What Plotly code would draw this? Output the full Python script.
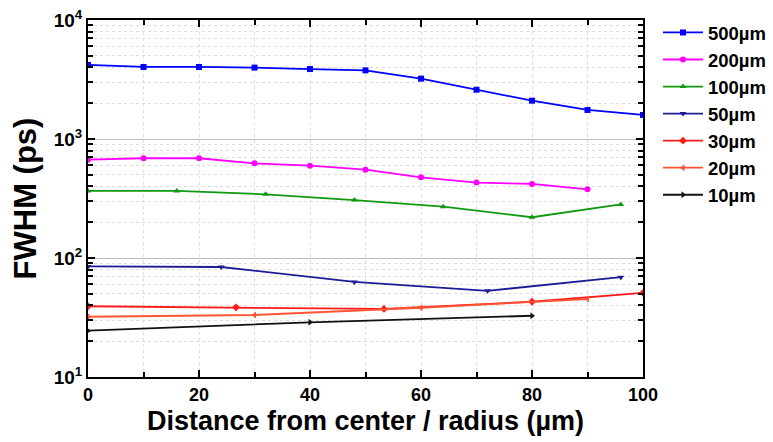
import plotly.graph_objects as go

series_names = ["500µm", "200µm", "100µm", "50µm", "30µm", "20µm", "10µm"]

x_500 = [0, 10, 20, 30, 40, 50, 60, 70, 80, 90, 100]
y_500 = [4190, 4030, 4030, 3980, 3870, 3775, 3215, 2595, 2100, 1754, 1592]

x_200 = [0, 10, 20, 30, 40, 50, 60, 70, 80, 90]
y_200 = [670, 689, 689, 625, 597, 552, 476, 430, 419, 378]

x_100 = [0, 16, 32, 48, 64, 80, 96]
y_100 = [366, 366, 343, 307, 270, 220, 282]

x_50 = [0, 24, 48, 72, 96]
y_50 = [85, 84, 63, 53, 69]

x_30 = [0, 26.67, 53.33, 80, 100]
y_30 = [39.3, 38.5, 37.3, 42.9, 51]

x_20 = [0, 30, 60, 90]
y_20 = [32.1, 33.2, 38.2, 45.2]

x_10 = [0, 40, 80]
y_10 = [24.5, 28.8, 32.7]

xs = [x_500, x_200, x_100, x_50, x_30, x_20, x_10]
ys = [y_500, y_200, y_100, y_50, y_30, y_20, y_10]
colors = ["#0000FF", "#FF00FF", "#119911", "#1C1C96", "#FF1A1A", "#FF5533", "#111111"]
symbols = ["square", "circle", "triangle-up", "triangle-down", "diamond", "triangle-left", "triangle-right"]

x_ticks = [0, 20, 40, 60, 80, 100]
y_ticks = [10, 100, 1000, 10000]
y_ticktext = ["10<sup>1</sup>", "10<sup>2</sup>", "10<sup>3</sup>", "10<sup>4</sup>"]
y_minor = [m * d for d in [10, 100, 1000] for m in range(2, 10)]

FONT = "Liberation Sans, Arial, sans-serif"

fig = go.Figure()
for name, x, y, c, s in zip(series_names, xs, ys, colors, symbols):
    fig.add_trace(go.Scatter(
        x=x, y=y, name=name, mode="lines+markers",
        line=dict(color=c, width=1.8),
        marker=dict(symbol=s, size=6, color=c),
    ))

W, H = 773, 442
ML, MR, MT, MB = 88, 0, 20, 65
plot_w = 555
paper_w = W - ML - MR

fig.update_layout(
    width=W, height=H,
    margin=dict(l=ML, r=MR, t=MT, b=MB),
    paper_bgcolor="white", plot_bgcolor="white",
    font=dict(family=FONT, color="black"),
    legend=dict(
        x=(658 - ML) / paper_w, y=1.017, xanchor="left", yanchor="top",
        font=dict(size=18.5, family=FONT, color="black", weight="bold"),
        tracegroupgap=0, itemwidth=40, bgcolor="rgba(0,0,0,0)", borderwidth=0,
    ),
    xaxis=dict(
        domain=[0, plot_w / paper_w],
        range=[0, 100], tickvals=x_ticks, automargin=False,
        ticks="inside", ticklen=7, tickwidth=2, tickcolor="black",
        showline=True, linecolor="black", linewidth=2, mirror="allticks",
        showgrid=True, gridcolor="#dddddd", griddash="dot", gridwidth=1,
        zeroline=False,
        tickfont=dict(size=18, family=FONT, weight="bold"),
        title=dict(text="Distance from center / radius (µm)",
                   font=dict(size=27, family=FONT, weight="bold"), standoff=8),
        minor=dict(dtick=10, ticks="inside", ticklen=5, tickwidth=2, tickcolor="black",
                   showgrid=True, gridcolor="#dddddd", griddash="dot", gridwidth=1),
    ),
    yaxis=dict(
        type="log", range=[1, 4], tickvals=y_ticks, ticktext=y_ticktext, automargin=False,
        ticks="inside", ticklen=7, tickwidth=2, tickcolor="black",
        showline=True, linecolor="black", linewidth=2, mirror="allticks",
        showgrid=True, gridcolor="#bbbbbb", gridwidth=1,
        zeroline=False,
        tickfont=dict(size=19, family=FONT, weight="bold"),
        title=dict(text="FWHM (ps)",
                   font=dict(size=31, family=FONT, weight="bold"), standoff=8),
        minor=dict(tickmode="array", tickvals=y_minor, ticks="inside", ticklen=5,
                   tickwidth=1.5, tickcolor="black",
                   showgrid=True, gridcolor="#dddddd", griddash="dot", gridwidth=1),
    ),
)

fig.write_html("out.html", config={"displayModeBar": False},
               post_script="document.body.style.margin='0';document.body.style.overflow='hidden';")
